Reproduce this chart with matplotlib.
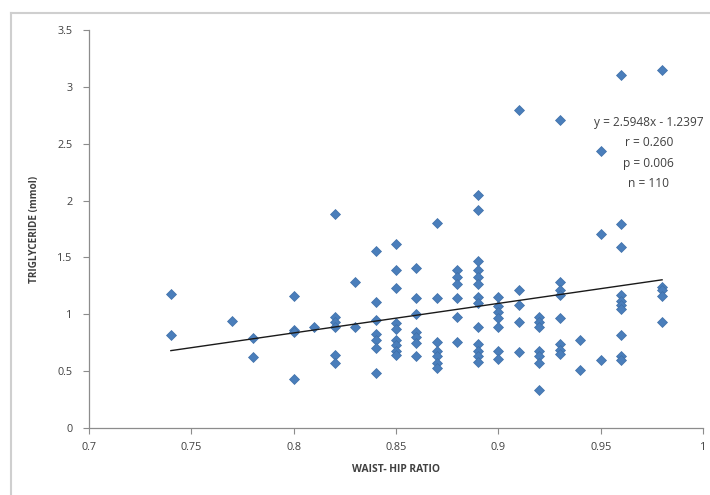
import matplotlib
matplotlib.use("Agg")
import matplotlib.pyplot as plt
from matplotlib.lines import Line2D

# waist-hip ratio groups and the triglyceride values
x_groups = [0.74, 0.77, 0.78, 0.80, 0.81, 0.82, 0.83, 0.84, 0.85, 0.86, 0.87,
            0.88, 0.89, 0.90, 0.91, 0.92, 0.93, 0.94, 0.95, 0.96, 0.98]
y_groups = [
    [1.18, 0.82],
    [0.94],
    [0.79, 0.62],
    [1.16, 0.86, 0.84, 0.43],
    [0.89],
    [1.88, 0.98, 0.93, 0.89, 0.64, 0.57],
    [1.28, 0.89],
    [1.56, 1.11, 0.95, 0.83, 0.77, 0.70, 0.48],
    [1.62, 1.39, 1.23, 0.92, 0.87, 0.77, 0.73, 0.68, 0.64],
    [1.41, 1.14, 1.00, 0.84, 0.80, 0.75, 0.63],
    [1.80, 1.14, 0.76, 0.68, 0.63, 0.57, 0.53],
    [1.39, 1.33, 1.27, 1.14, 0.98, 0.76],
    [2.05, 1.92, 1.47, 1.39, 1.33, 1.27, 1.15, 1.10, 0.89, 0.74, 0.68, 0.63, 0.58],
    [1.15, 1.07, 1.02, 0.97, 0.89, 0.68, 0.61],
    [2.80, 1.21, 1.08, 0.93, 0.67],
    [0.98, 0.93, 0.89, 0.68, 0.63, 0.57, 0.33],
    [2.71, 1.28, 1.21, 1.17, 0.97, 0.74, 0.69, 0.65],
    [0.77, 0.51],
    [2.44, 1.71, 0.60],
    [3.10, 1.79, 1.59, 1.17, 1.12, 1.08, 1.05, 0.82, 0.63, 0.60],
    [3.15, 1.24, 1.21, 1.16, 0.93],
]
slope = 2.5948
intercept = -1.2397
stats_text = "y = 2.5948x - 1.2397\nr = 0.260\np = 0.006\nn = 110"

xs = []
ys = []
for xv, yl in zip(x_groups, y_groups):
    for yv in yl:
        xs.append(xv)
        ys.append(yv)

plt.rcParams['font.family'] = ['Open Sans', 'DejaVu Sans']

fig = plt.figure(figsize=(7.1, 4.95), dpi=100)
ax = fig.add_axes([89/710, 1 - 428/495, 614/710, 398/495])

ax.plot(xs, ys, linestyle='none', marker='D', markersize=5.5,
        color='#4a7ebb', markeredgecolor='#3f6fa8', markeredgewidth=0.5, zorder=3)

# linear trendline
x0, x1 = min(xs), max(xs)
ax.plot([x0, x1], [slope*x0 + intercept, slope*x1 + intercept],
        color='#1a1a1a', linewidth=1.0, zorder=4)

ax.text(0.9735, 2.745, stats_text, ha='center', va='top', fontsize=8.6,
        color='#404040', linespacing=1.75, clip_on=False)

ax.set_xlim(0.7, 1.0)
ax.set_ylim(0, 3.5)
ax.set_xticks([0.7, 0.75, 0.8, 0.85, 0.9, 0.95, 1.0])
ax.set_xticklabels(['0.7', '0.75', '0.8', '0.85', '0.9', '0.95', '1'])
ax.set_yticks([0, 0.5, 1, 1.5, 2, 2.5, 3, 3.5])
ax.set_yticklabels(['0', '0.5', '1', '1.5', '2', '2.5', '3', '3.5'])

for s in ['top', 'right']:
    ax.spines[s].set_visible(False)
for s in ['left', 'bottom']:
    ax.spines[s].set_color('#8c8c8c')
    ax.spines[s].set_linewidth(0.9)
ax.tick_params(axis='both', colors='#8c8c8c', labelcolor='#404040',
               labelsize=7.8, length=4, width=0.8, direction='out')
ax.tick_params(axis='x', pad=6)
ax.tick_params(axis='y', pad=8)

ax.set_xlabel('WAIST- HIP RATIO', fontsize=7.4, fontweight='bold',
              color='#404040', labelpad=8)
ax.set_ylabel('TRIGLYCERIDE (mmol)', fontsize=7.2, fontweight='bold',
              color='#404040', labelpad=12)

# outer chart frame (top and left edges visible)
fig.add_artist(Line2D([11/710, 1], [1 - 12.5/495, 1 - 12.5/495],
                      transform=fig.transFigure, color='#cfcfcf', linewidth=1.5))
fig.add_artist(Line2D([11/710, 11/710], [0, 1 - 12.5/495],
                      transform=fig.transFigure, color='#cfcfcf', linewidth=1.5))

fig.savefig('out.png', dpi=100)
